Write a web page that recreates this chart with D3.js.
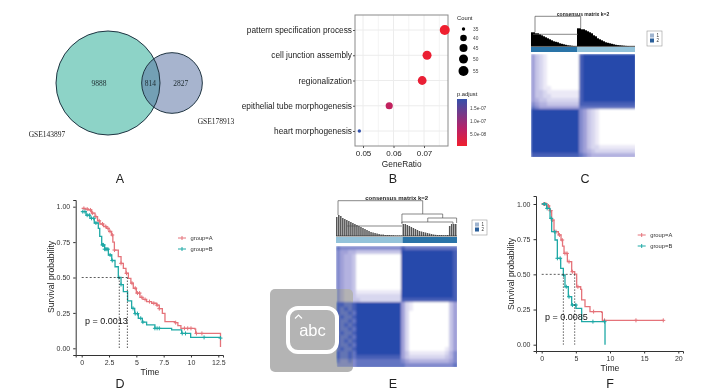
<!DOCTYPE html>
<html>
<head>
<meta charset="utf-8">
<script src="https://cdnjs.cloudflare.com/ajax/libs/d3/7.8.5/d3.min.js"></script>
<style>
  body { margin: 0; background: #fff; }
  text { font-family: "Liberation Sans", Arial, sans-serif; }
</style>
</head>
<body>
<div id="chart"></div>
<script>
// panel A
const vennSets = ["GSE143897", "GSE178913"];
const vennCounts = [9888, 814, 2827];

// panel B
const goTerms = ["pattern specification process", "cell junction assembly", "regionalization", "epithelial tube morphogenesis", "heart morphogenesis"];
const goRatio = [0.0768, 0.071, 0.0694, 0.0586, 0.0488];
const goCount = [55, 50, 49, 42, 35];
const goPadj = [5e-9, 1e-8, 1.2e-8, 6e-8, 1.87e-7];
const countLegend = [35, 40, 45, 50, 55];
const padjTicks = [1.5e-7, 1e-7, 5e-8];
const padjLabels = ["1.5e-07", "1.0e-07", "5.0e-08"];

// panel D
const dTimeA = [0, 0.3, 0.61, 0.9, 1.22, 1.45, 1.67, 2.0, 2.28, 2.5, 2.74, 2.85, 2.99, 3.35, 3.6, 3.81, 4.05, 4.27, 4.5, 4.72, 5.0, 5.33, 5.6, 5.94, 6.4, 6.86, 7.1, 7.38, 7.62, 8.53, 8.8, 9.08, 10.36, 10.43, 12.7];
const dSurvA = [0.988, 0.983, 0.977, 0.955, 0.93, 0.9, 0.878, 0.86, 0.847, 0.825, 0.8, 0.75, 0.694, 0.647, 0.6, 0.565, 0.53, 0.494, 0.46, 0.424, 0.39, 0.36, 0.345, 0.33, 0.318, 0.305, 0.28, 0.247, 0.188, 0.181, 0.16, 0.141, 0.136, 0.105, 0.01];
const dTimeB = [0, 0.4, 0.76, 1.15, 1.52, 1.65, 1.83, 2.1, 2.44, 2.75, 3.05, 3.35, 3.6, 3.81, 4.2, 4.57, 4.85, 5.18, 5.55, 5.94, 6.7, 8.23, 9.15, 9.9, 9.97, 12.7];
const dSurvB = [0.965, 0.94, 0.918, 0.885, 0.847, 0.79, 0.73, 0.7, 0.659, 0.62, 0.576, 0.5, 0.45, 0.4, 0.335, 0.282, 0.245, 0.212, 0.185, 0.165, 0.141, 0.13, 0.105, 0.105, 0.077, 0.072];
const dCensorA = [0.2, 0.5, 0.8, 1.0, 1.3, 1.6, 1.9, 2.2, 2.4, 2.6, 2.8, 3.0, 3.6, 4.1, 4.6, 4.9, 5.1, 5.3, 5.5, 5.8, 6.2, 6.6, 6.9, 7.1, 8.6, 9.4, 9.7, 10.0, 10.5, 11];
const dCensorB = [0.1, 0.3, 0.5, 0.7, 0.9, 1.1, 1.3, 1.9, 2.0, 2.1, 2.2, 2.3, 2.4, 2.6, 2.8, 3.4, 3.6, 4.7, 4.9, 5.1, 5.4, 5.6, 6.7, 6.9, 7.1, 9.2, 9.5, 11.2, 12.7];
const dMedians = [3.44, 4.18];
const dTicks = [0, 2.5, 5, 7.5, 10, 12.5];

// panel F
const fTimeA = [0, 0.73, 1.12, 1.46, 1.8, 2.44, 2.83, 3.05, 3.27, 3.76, 4.39, 4.83, 5.12, 5.71, 5.85, 6.34, 7.07, 8.78, 8.88, 17.8];
const fSurvA = [1, 0.986, 0.953, 0.886, 0.803, 0.78, 0.744, 0.7, 0.649, 0.59, 0.519, 0.502, 0.412, 0.393, 0.318, 0.27, 0.235, 0.23, 0.173, 0.173];
const fTimeB = [0, 0.73, 1.22, 1.46, 1.95, 2.29, 2.78, 3.17, 3.41, 3.9, 4.39, 5.02, 5.85, 9.27, 9.27];
const fSurvB = [1, 0.969, 0.898, 0.803, 0.744, 0.614, 0.543, 0.495, 0.412, 0.341, 0.282, 0.258, 0.164, 0.159, 0];
const fCensorA = [0.3, 0.6, 1.0, 1.3, 1.6, 2.1, 2.6, 3.0, 3.4, 3.7, 4.0, 4.5, 5.3, 7.6, 9.2, 13.8, 17.8];
const fCensorB = [0.4, 0.8, 1.4, 1.9, 2.3, 2.7, 3.2, 3.6, 4.0, 4.5, 5.0, 7.5, 9.2];
const fMedians = [3.17, 4.83];
const fTicks = [0, 5, 10, 15, 20];
const survTicks = [0, 0.25, 0.5, 0.75, 1];

// panel C, consensus levels 0-9 per block of samples
const matrixC = [
  "53210000000089999999999999",
  "53210000000089999999999999",
  "53210000000089999999999999",
  "53210000000089999999999999",
  "53210000000089999999999999",
  "53210000000089999999999999",
  "53210000000089999999999999",
  "53210000000089999999999999",
  "53211000000089999999999999",
  "53321111111189999999999999",
  "53322111111189999999999999",
  "54332222222289999999999999",
  "65443333333388888888888888",
  "76555555555577777777777777",
  "99999999999965321000000000",
  "99999999999965321000000000",
  "99999999999965321000000000",
  "99999999999965321000000000",
  "99999999999965321000000000",
  "99999999999965321000000000",
  "99999999999965321000000000",
  "99999999999965321000000000",
  "99999999999965321000000000",
  "99999999999965322111111111",
  "99999999999965432222222222",
  "88888888888876544444444444"
];
const dendroC = [14, 14, 13, 13, 12, 11, 10, 9, 8, 7, 6, 5, 4.5, 4, 3, 2.5, 2, 1.5, 1, 0.8, 0.5, 0.3, 0.2,
  18, 18, 17, 17, 16, 15, 14, 13, 11, 10, 8, 7, 6, 5, 4, 3.5, 3, 2.5, 2, 1.5, 1.2, 1, 0.8, 0.6, 0.4, 0.3, 0.2, 0.2, 0.2];
const linksC = [[2, 24.85, 14, 18, 30], [1, 23.5, 12, 12, 12]];
const clustersC = [23, 29];

// panel E
const matrixE = [
  "7666666666666666" + "87777777777777",
  "6554433333333333" + "99999999999998",
  "6544300000000000" + "99999999999998",
  "6544300000000000" + "99999999999998",
  "6544300000000000" + "99999999999998",
  "6544300000000000" + "99999999999998",
  "6544300000000000" + "99999999999998",
  "6544300000000000" + "99999999999998",
  "6544300000000000" + "99999999999998",
  "6544300000000000" + "99999999999998",
  "6544300000000000" + "99999999999998",
  "6544311111111111" + "99999999999998",
  "6544322222222222" + "99999999999998",
  "6544332222222222" + "88888888888888",
  "8877899999999999" + "52100000000035",
  "8787899999999999" + "52100000000035",
  "8778799999999999" + "52000000000035",
  "7877899999999999" + "52000000000035",
  "8778799999999999" + "52000000000035",
  "8787899999999999" + "52000000000035",
  "8778799999999999" + "52000000000035",
  "7877899999999999" + "52000000000035",
  "8778799999999999" + "52000000000035",
  "8787899999999999" + "52000000000035",
  "8778799999999999" + "52000000000035",
  "7877899999999999" + "52000000000135",
  "8778799999999999" + "53111111111246",
  "8778788888888888" + "53222222222346",
  "7667677777777777" + "65444444444456",
  "6666677777777777" + "76666666666667"
];
const dendroE = [19, 21, 20, 18, 17, 16, 15, 14, 13, 12, 11, 10, 9, 8, 7, 6, 5, 4, 3.5, 3, 2.5, 2, 1.5, 1.5, 1, 1, 1, 0.8, 0.8, 0.5, 0.5, 0.5, 0.5,
  12, 12, 11, 10, 9, 8, 7, 6, 5, 4.5, 4, 3.5, 3, 2.5, 2, 1.5, 1.2, 1, 1, 1, 0.8, 0.8, 1, 10, 12, 12, 12];
const linksE = [[1, 43, 21, 22, 35.3], [32.7, 52.9, 13, 18, 22], [45.5, 59.8, 14, 13, 18], [32.7, 58, 12, 12, 14], [5.5, 32.7, 10, 10, 10]];
const clustersE = [33, 27];

const panelLetters = ["A", "B", "C", "D", "E", "F"];

const svg = d3.select("#chart").append("svg").attr("width", 714).attr("height", 391).style("display", "block");
const defs = svg.append("defs");
defs.append("filter").attr("id", "soft").append("feGaussianBlur").attr("stdDeviation", 1);
const colA = "#e5737a", colB = "#1fa9a6";
const darkTick = "#333";

// panel letters
const letterPos = [[120, 182.5], [393, 182.5], [585, 182.5], [120, 387.5], [393, 387.5], [610, 387.5]];
svg.selectAll(".letter").data(panelLetters).enter().append("text")
  .attr("x", (d, i) => letterPos[i][0]).attr("y", (d, i) => letterPos[i][1])
  .attr("text-anchor", "middle").attr("font-size", 12.5).attr("fill", "#222").text(d => d);

// ---- A: venn
function drawVenn() {
  const g = svg.append("g");
  const r = d3.scaleSqrt().domain([0, vennCounts[0] + vennCounts[1]]).range([0, 52]);
  const big = { cx: 108, cy: 83, r: r(vennCounts[0] + vennCounts[1]) };
  const small = { cx: 172, cy: 83, r: r(vennCounts[1] + vennCounts[2]) };
  g.append("circle").attr("cx", big.cx).attr("cy", big.cy).attr("r", big.r).attr("fill", "#8dd3c7");
  g.append("circle").attr("cx", small.cx).attr("cy", small.cy).attr("r", small.r).attr("fill", "#5f76a5").attr("fill-opacity", 0.55);
  [big, small].forEach(c => {
    g.append("circle").attr("cx", c.cx).attr("cy", c.cy).attr("r", c.r).attr("fill", "none").attr("stroke", "#1f3442").attr("stroke-width", 1);
  });
  const lab = [[99, 83], [150.3, 83], [180.7, 83]];
  g.selectAll(".vn").data(vennCounts).enter().append("text")
    .attr("x", (d, i) => lab[i][0]).attr("y", (d, i) => lab[i][1]).attr("dy", "0.35em")
    .attr("text-anchor", "middle").style("font-family", "Liberation Serif").attr("font-size", 7.5).attr("fill", "#1d2b30").text(d => d);
  const setPos = [[47, 134], [216, 121]];
  g.selectAll(".vs").data(vennSets).enter().append("text")
    .attr("x", (d, i) => setPos[i][0]).attr("y", (d, i) => setPos[i][1]).attr("dy", "0.35em")
    .attr("text-anchor", "middle").style("font-family", "Liberation Serif").attr("font-size", 7.5).attr("fill", "#222").text(d => d);
}

// ---- B: dot plot
function drawDots() {
  const g = svg.append("g");
  const left = 355, right = 448, top = 15, bottom = 146;
  const x = d3.scaleLinear().domain([0.05, 0.07]).range([363, 424]);
  const y = d3.scalePoint().domain(goTerms).range([30, 131]);
  const size = d3.scaleLinear().domain(countLegend).range([1.7, 3.3, 4, 4.5, 5]);
  const xTicks = [0.05, 0.06, 0.07];
  const xMinor = [0.055, 0.065, 0.075];

  g.selectAll(".gm").data(xMinor).enter().append("line")
    .attr("x1", d => x(d)).attr("x2", d => x(d)).attr("y1", top).attr("y2", bottom).attr("stroke", "#f4f4f4");
  g.selectAll(".gx").data(xTicks).enter().append("line")
    .attr("x1", d => x(d)).attr("x2", d => x(d)).attr("y1", top).attr("y2", bottom).attr("stroke", "#ececec");
  g.selectAll(".gy").data(goTerms).enter().append("line")
    .attr("x1", left).attr("x2", right).attr("y1", d => y(d)).attr("y2", d => y(d)).attr("stroke", "#ececec");
  g.append("rect").attr("x", left).attr("y", top).attr("width", right - left).attr("height", bottom - top)
    .attr("fill", "none").attr("stroke", "#8a8a8a").attr("stroke-width", 1);

  const ax = g.append("g").attr("transform", `translate(0,${bottom})`)
    .call(d3.axisBottom(x).tickValues(xTicks).tickSize(2).tickFormat(d3.format(".2f")));
  ax.select(".domain").remove();
  ax.selectAll("text").attr("font-size", 8).attr("y", 4).style("font-family", "Liberation Sans").attr("fill", "#222");
  ax.selectAll("line").attr("stroke", "#555");

  const ay = g.append("g").attr("transform", `translate(${left},0)`).call(d3.axisLeft(y).tickSize(2).tickPadding(1));
  ay.select(".domain").remove();
  ay.selectAll("text").attr("font-size", 8.3).style("font-family", "Liberation Sans").attr("fill", "#1a1a1a");
  ay.selectAll("line").attr("stroke", "#555");

  g.append("text").attr("x", 401.7).attr("y", 166.5).attr("text-anchor", "middle").attr("font-size", 8.3).attr("fill", "#222").text("GeneRatio");

  // p.adjust colour ramp
  const barTop = 99, barBottom = 146;
  const cy = d3.scaleLinear().domain([5e-8, 1.5e-7]).range([134, 108]);
  const col = d3.scaleLinear().domain([cy.invert(barBottom), 7e-8, cy.invert(barTop)]).range(["#f01f2e", "#b92267", "#3550aa"]);
  const grad = defs.append("linearGradient").attr("id", "padj").attr("x1", 0).attr("x2", 0).attr("y1", 1).attr("y2", 0);
  col.domain().forEach((d, i) => {
    grad.append("stop").attr("offset", (cy(d) - barBottom) / (barTop - barBottom)).attr("stop-color", col.range()[i]);
  });
  g.append("rect").attr("x", 457).attr("y", barTop).attr("width", 10).attr("height", barBottom - barTop).attr("fill", "url(#padj)");

  g.selectAll(".dot").data(goTerms).enter().append("circle")
    .attr("cx", (d, i) => x(goRatio[i])).attr("cy", d => y(d))
    .attr("r", (d, i) => size(goCount[i])).attr("fill", (d, i) => col(goPadj[i]));

  g.append("text").attr("x", 457).attr("y", 20).attr("font-size", 5.8).attr("fill", "#222").text("Count");
  const legY = d3.scaleOrdinal().domain(countLegend).range([29, 38, 48, 59, 71]);
  g.selectAll(".cl").data(countLegend).enter().append("circle")
    .attr("cx", 463.5).attr("cy", d => legY(d)).attr("r", d => size(d)).attr("fill", "#000");
  g.selectAll(".ct").data(countLegend).enter().append("text")
    .attr("x", 473).attr("y", d => legY(d)).attr("dy", "0.35em").attr("font-size", 4.8).attr("fill", "#444").text(d => d);
  g.append("text").attr("x", 457).attr("y", 95.5).attr("font-size", 5.8).attr("fill", "#222").text("p.adjust");
  g.selectAll(".pt").data(padjTicks).enter().append("text")
    .attr("x", 470).attr("y", d => cy(d)).attr("dy", "0.35em").attr("font-size", 4.8).attr("fill", "#444")
    .text((d, i) => padjLabels[i]);
}

// ---- C, E: consensus heatmap
const levelColor = d3.scaleLinear().domain([0, 1, 5, 9]).range(["#ffffff", "#ebe9f6", "#a0a0d8", "#2849ab"]);

function drawConsensus(o) {
  const g = svg.append("g");
  const nCol = o.matrix[0].length, nRow = o.matrix.length;
  const xc = d3.scaleBand().domain(d3.range(nCol)).range([o.x0, o.x1]);
  const yc = d3.scaleBand().domain(d3.range(nRow)).range([o.y0, o.y1]);
  const cells = o.matrix.flatMap((row, r) => row.split("").map((c, i) => ({ r, c: i, v: +c })));
  // blur stays inside the matrix box
  const clipId = "clip" + o.x0;
  defs.append("clipPath").attr("id", clipId).append("rect")
    .attr("x", o.x0).attr("y", o.y0).attr("width", o.x1 - o.x0).attr("height", o.y1 - o.y0);
  g.append("g").attr("clip-path", `url(#${clipId})`)
    .append("g").attr("filter", "url(#soft)").selectAll("rect").data(cells).enter().append("rect")
    .attr("x", d => xc(d.c)).attr("y", d => yc(d.r))
    .attr("width", xc.bandwidth() + 0.5).attr("height", yc.bandwidth() + 0.5)
    .attr("shape-rendering", "crispEdges")
    .attr("fill", d => levelColor(d.v));

  // annotation strip
  const n = o.dendro.length;
  const xs = d3.scaleLinear().domain([0, n]).range([o.x0, o.x1]);
  g.selectAll(".strip").data(o.clusters).enter().append("rect")
    .attr("x", (d, i) => xs(i === 0 ? 0 : o.clusters[0]))
    .attr("width", (d) => xs(d) - xs(0))
    .attr("y", o.stripY).attr("height", o.stripH)
    .attr("fill", (d, i) => o.stripColors[i]);

  // dendrogram
  const yh = d3.scaleLinear().domain([0, o.hMax]).range([o.base, o.base - o.hMax]);
  g.selectAll(".dbar").data(o.dendro).enter().append("rect")
    .attr("x", (d, i) => xs(i)).attr("width", o.barW)
    .attr("y", d => yh(d)).attr("height", d => yh(0) - yh(d)).attr("fill", o.barColor);
  const link = d3.line().x(d => xs(d[0])).y(d => yh(d[1]));
  g.selectAll(".dlink").data(o.links).enter().append("path")
    .attr("fill", "none").attr("stroke", "#555").attr("stroke-width", 0.7)
    .attr("d", d => link([[d[0], d[2]], [d[0], d[4]], [d[1], d[4]], [d[1], d[3]]]));
  g.append("line").attr("x1", o.x0).attr("x2", o.x1).attr("y1", o.base).attr("y2", o.base).attr("stroke", "#222").attr("stroke-width", 0.7);

  g.append("text").attr("x", o.titleX).attr("y", o.titleY).attr("text-anchor", "middle")
    .attr("font-size", o.titleSize).attr("font-weight", "bold").attr("fill", "#222").text("consensus matrix k=2");

  // legend box
  g.append("rect").attr("x", o.legX).attr("y", o.legY).attr("width", 15).attr("height", 15)
    .attr("fill", "#fff").attr("stroke", "#999").attr("stroke-width", 0.6);
  ["1", "2"].forEach((t, i) => {
    g.append("rect").attr("x", o.legX + 3).attr("y", o.legY + 2.5 + i * 5).attr("width", 4).attr("height", 4)
      .attr("fill", ["#9fb4cf", "#2a5f9a"][i]);
    g.append("text").attr("x", o.legX + 9.5).attr("y", o.legY + 4.5 + i * 5).attr("dy", "0.35em")
      .attr("font-size", 4.5).attr("fill", "#333").text(t);
  });
}

// ---- D, F: survival curves
function drawSurvival(o) {
  const g = svg.append("g");
  const xDom = [o.x.invert(o.axisX), o.x.invert(o.axisRight)];
  const yDom = [o.y.invert(o.axisY), o.y.invert(o.axisTop)];
  const x = o.x.copy().domain(xDom).range([o.axisX, o.axisRight]);
  const y = o.y.copy().domain(yDom).range([o.axisY, o.axisTop]);

  const line = d3.line().x(d => x(d[0])).y(d => y(d[1])).curve(d3.curveStepAfter);
  const stepAt = (times, surv, t) => surv[Math.max(0, d3.bisectRight(times, t) - 1)];

  [[o.timeA, o.survA, colA, o.censorA], [o.timeB, o.survB, colB, o.censorB]].forEach(([t, s, c, cens]) => {
    g.append("path").datum(t.map((d, i) => [d, s[i]])).attr("fill", "none").attr("stroke", c).attr("stroke-width", 1.3).attr("d", line);
    const marks = g.selectAll(null).data(cens).enter().append("g")
      .attr("transform", d => `translate(${x(d)},${y(stepAt(t, s, d))})`);
    marks.append("line").attr("y1", -2).attr("y2", 2).attr("stroke", c).attr("stroke-width", 1);
    marks.append("line").attr("x1", -2).attr("x2", 2).attr("stroke", c).attr("stroke-width", 1);
  });

  // median guides
  g.append("line").attr("x1", x(0)).attr("x2", x(o.medians[1])).attr("y1", y(0.5)).attr("y2", y(0.5))
    .attr("stroke", "#333").attr("stroke-width", 0.8).attr("stroke-dasharray", "2,2");
  g.selectAll(".med").data(o.medians).enter().append("line")
    .attr("x1", d => x(d)).attr("x2", d => x(d)).attr("y1", y(0.5)).attr("y2", y(0))
    .attr("stroke", "#333").attr("stroke-width", 0.8).attr("stroke-dasharray", "1.5,1.5");

  const ax = g.append("g").attr("transform", `translate(0,${o.axisY})`)
    .call(d3.axisBottom(x).tickValues(o.ticks).tickSize(2.5).tickFormat(d3.format("~g")));
  const ay = g.append("g").attr("transform", `translate(${o.axisX},0)`)
    .call(d3.axisLeft(y).tickValues(survTicks).tickSize(2.5).tickFormat(d3.format(".2f")));
  [ax, ay].forEach(a => {
    a.selectAll("text").attr("font-size", 7).style("font-family", "Liberation Sans").attr("fill", "#333");
    a.selectAll("line").attr("stroke", darkTick);
    a.select(".domain").attr("stroke", darkTick);
  });

  g.append("text").attr("x", o.xLabel[0]).attr("y", o.xLabel[1]).attr("text-anchor", "middle")
    .attr("font-size", 8.6).attr("fill", "#222").text("Time");
  g.append("text").attr("transform", `translate(${o.yLabel[0]},${o.yLabel[1]}) rotate(-90)`)
    .attr("text-anchor", "middle").attr("font-size", 8.6).attr("fill", "#222").text("Survival probability");
  g.append("text").attr("x", o.pPos[0]).attr("y", o.pPos[1]).attr("dy", "0.35em")
    .attr("font-size", 9).attr("fill", "#111").text(o.pText);

  ["group=A", "group=B"].forEach((t, i) => {
    const ly = o.legY[i], c = i ? colB : colA;
    g.append("line").attr("x1", o.legX).attr("x2", o.legX + 8).attr("y1", ly).attr("y2", ly).attr("stroke", c).attr("stroke-width", 1);
    g.append("line").attr("x1", o.legX + 4).attr("x2", o.legX + 4).attr("y1", ly - 2).attr("y2", ly + 2).attr("stroke", c).attr("stroke-width", 1);
    g.append("text").attr("x", o.legX + 12.5).attr("y", ly).attr("dy", "0.35em").attr("font-size", 5.8).attr("fill", "#333").text(t);
  });
}

drawVenn();
drawDots();

drawConsensus({
  matrix: matrixC, dendro: dendroC, links: linksC, clusters: clustersC,
  x0: 531, x1: 635, y0: 54, y1: 157, stripY: 47, stripH: 5, base: 46.3, hMax: 30, barW: 2, barColor: "#000",
  stripColors: ["#2a74a8", "#94c3da"], titleX: 583, titleY: 16, titleSize: 5, legX: 647, legY: 31
});
drawConsensus({
  matrix: matrixE, dendro: dendroE, links: linksE, clusters: clustersE,
  x0: 336, x1: 457, y0: 246, y1: 367, stripY: 237, stripH: 6, base: 236, hMax: 36, barW: 1.5, barColor: "#555",
  stripColors: ["#94c3da", "#2a74a8"], titleX: 396.7, titleY: 200, titleSize: 6, legX: 472, legY: 220
});

drawSurvival({
  x: d3.scaleLinear().domain([0, 12.5]).range([81.7, 218.3]),
  y: d3.scaleLinear().domain([0, 1]).range([348.3, 206.7]),
  axisX: 75.7, axisRight: 223, axisY: 355, axisTop: 200,
  timeA: dTimeA, survA: dSurvA, timeB: dTimeB, survB: dSurvB,
  censorA: dCensorA, censorB: dCensorB, medians: dMedians, ticks: dTicks,
  xLabel: [150, 375], yLabel: [54, 277], pPos: [85, 321], pText: "p = 0.0013",
  legX: 178, legY: [238, 249]
});
drawSurvival({
  x: d3.scaleLinear().domain([0, 20]).range([541.7, 678.3]),
  y: d3.scaleLinear().domain([0, 1]).range([344.7, 204]),
  axisX: 536, axisRight: 683, axisY: 351, axisTop: 196,
  timeA: fTimeA, survA: fSurvA, timeB: fTimeB, survB: fSurvB,
  censorA: fCensorA, censorB: fCensorB, medians: fMedians, ticks: fTicks,
  xLabel: [610, 371], yLabel: [514, 274], pPos: [545, 317.3], pText: "p = 0.0085",
  legX: 637.7, legY: [235, 246]
});

// grey "abc" stamp sitting over panel E
const stamp = svg.append("g");
stamp.append("rect").attr("x", 270).attr("y", 289).attr("width", 83).attr("height", 83).attr("rx", 5)
  .attr("fill", "#b4b4b4").style("mix-blend-mode", "darken");
stamp.append("rect").attr("x", 288).attr("y", 308).attr("width", 49).attr("height", 44).attr("rx", 10)
  .attr("fill", "none").attr("stroke", "#fff").attr("stroke-width", 4);
stamp.append("text").attr("x", 312.5).attr("y", 336).attr("text-anchor", "middle").attr("font-size", 16.5).attr("fill", "#fff").text("abc");
stamp.append("path").attr("d", "M295,318.5 L298.5,315 L302,318.5").attr("fill", "none").attr("stroke", "#fff").attr("stroke-width", 1.2);
</script>
</body>
</html>
